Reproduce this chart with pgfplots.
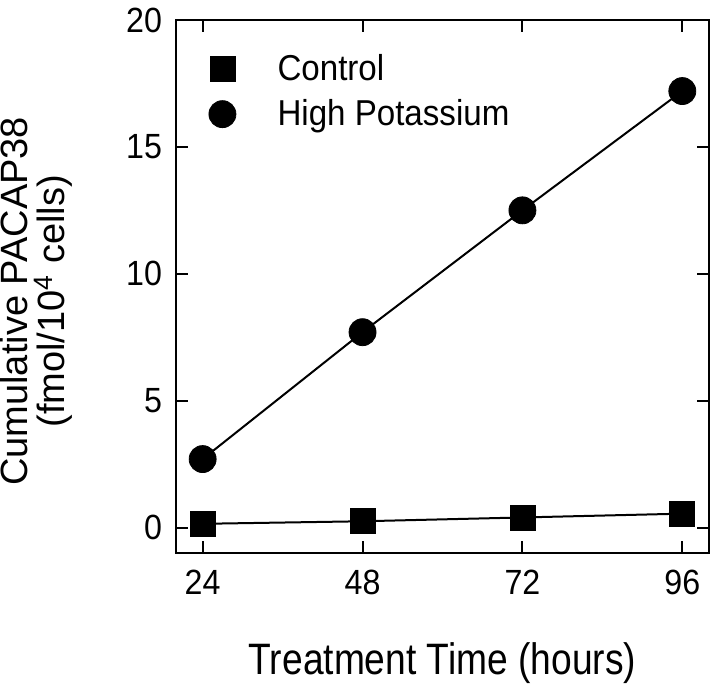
\documentclass[border=0pt]{standalone}
\usepackage{fontspec}
\setmainfont{Liberation Sans}
\newfontfamily\tickfont{Liberation Sans}[FakeStretch=0.92]
\newfontfamily\xlabfont{Liberation Sans}[FakeStretch=0.845]
\usepackage{pgfplots}
\pgfplotsset{compat=1.18}
\begin{document}
\begin{tikzpicture}
\path[use as bounding box] (-88pt,-69pt) rectangle (272pt,276.5pt);
\begin{axis}[
  scale only axis,
  width=266.5pt, height=266.5pt,
  xmin=20, xmax=100, ymin=-1, ymax=20,
  xtick={24,48,72,96}, ytick={0,5,10,15,20},
  tick align=inside,
  major tick length=6pt,
  axis line style={line width=1pt},
  every tick/.style={black, line width=1pt},
  /pgf/number format/assume math mode=true,
  tick label style={font=\tickfont\fontsize{17.5}{19}\selectfont},
  xticklabel style={yshift=-5pt},
  yticklabel style={xshift=-3.5pt},
  xlabel={Treatment Time (hours)},
  xlabel style={font=\xlabfont\fontsize{22}{24}\selectfont, at={(axis description cs:0.5,0)}, anchor=center, yshift=-55pt},
  ylabel={Cumulative PACAP38\\(fmol/10\textsuperscript{4} cells)},
  ylabel style={font=\fontsize{19}{18.5}\selectfont, align=center, at={(axis description cs:-0.262,0.472)}, anchor=center},
  legend style={draw=none, fill=none, at={(axis description cs:0.037,0.951)}, anchor=north west,
    font=\tickfont\fontsize{18}{20}\selectfont, row sep=4pt, column sep=4pt},
  legend cell align=left,
  legend image code/.code={\path (-0.1cm,0) (1.0cm,0); \draw[#1] plot coordinates {(0.25cm,0cm)};},
]
\addplot[black, line width=1pt, forget plot] coordinates {(24,0.15) (48,0.25) (72,0.4) (96,0.55)};
\addplot[black, line width=1pt, forget plot] coordinates {(24,2.7) (48,7.7) (72,12.5) (96,17.2)};
\addplot[only marks, mark=square*, mark size=6.25pt, black] coordinates {(24,0.15) (48,0.25) (72,0.4) (96,0.55)};
\addlegendentry{Control}
\addplot[only marks, mark=*, mark size=6.75pt, black] coordinates {(24,2.7) (48,7.7) (72,12.5) (96,17.2)};
\addlegendentry{High Potassium}
\end{axis}
\end{tikzpicture}
\end{document}
